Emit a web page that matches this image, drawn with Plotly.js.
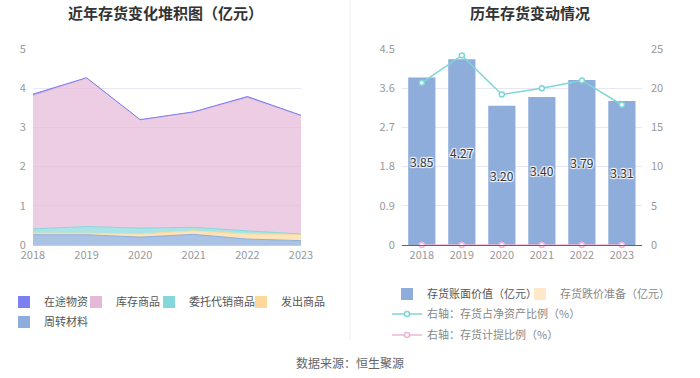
<!DOCTYPE html>
<html><head><meta charset="utf-8">
<script src="https://cdn.plot.ly/plotly-3.0.1.min.js"></script>
<style>body{margin:0;background:#fff}#c{width:700px;height:378px}</style>
</head><body><div id="c"></div>
<script>
const years = ['2018','2019','2020','2021','2022','2023'];
const zaitu = [0.04, 0.01, 0.01, 0.01, 0.03, 0.01];
const kucun = [3.40, 3.79, 2.76, 2.94, 3.40, 3.02];
const weituo = [0.11, 0.17, 0.15, 0.09, 0.08, 0.01];
const fachu = [0.04, 0.04, 0.08, 0.09, 0.13, 0.16];
const zhouzhuan = [0.26, 0.26, 0.20, 0.27, 0.15, 0.11];
const bookValue = [3.85, 4.27, 3.20, 3.40, 3.79, 3.31];
const impairment = [0, 0, 0, 0, 0, 0];
const netAssetRatio = [20.7, 24.2, 19.2, 20.0, 21.0, 17.9];
const provisionRatio = [0, 0, 0, 0, 0, 0];

const font = 'Noto Sans CJK SC, Noto Sans, sans-serif';
const traces = [];
function area(name, y, color, fill, legend){
  traces.push({type:'scatter', mode:'lines', x:years, y:y, name:name, stackgroup:'one',
    line:{color:color, width:1}, fillcolor:fill, xaxis:'x', yaxis:'y', showlegend:false, legendgroup:name, hoverinfo:'skip'});
  // legend swatch only: a zero-height bar so the legend shows a block
  traces.push({type:'bar', x:[years[0]], y:[0], name:name, marker:{color:color, line:{width:0}},
    xaxis:'x', yaxis:'y', legend:legend, legendgroup:name, showlegend:true, hoverinfo:'skip'});
}
area('周转材料', zhouzhuan, '#8eaddb', 'rgba(142,173,219,0.75)', 'legend5');
area('发出商品', fachu, '#fdd89a', 'rgba(253,216,154,0.7)', 'legend4');
area('委托代销商品', weituo, '#86d7da', 'rgba(134,215,218,0.7)', 'legend3');
area('库存商品', kucun, '#e6b8d8', 'rgba(230,184,216,0.7)', 'legend2');
area('在途物资', zaitu, '#7b7ff0', 'rgba(123,127,240,0.8)', 'legend');
traces.push(
  {type:'bar', x:years, y:bookValue, name:'存货账面价值（亿元）', xaxis:'x2', yaxis:'y2',
    marker:{color:'#8eaddb'}, width:0.68, legend:'legend6',
    texttemplate:'%{y:.2f}', textposition:'inside', insidetextanchor:'middle', textangle:0, constraintext:'none',
    textfont:{color:'#333', size:12, family:font,
      shadow:'1px 1px 1px #fff, -1px -1px 1px #fff, 1px -1px 1px #fff, -1px 1px 1px #fff'}},
  {type:'bar', x:years, y:impairment, name:'存货跌价准备（亿元）', xaxis:'x2', yaxis:'y2',
    marker:{color:'#fde8c8'}, legend:'legend7', hoverinfo:'skip'},
  {type:'scatter', mode:'lines+markers', x:years, y:netAssetRatio, name:'右轴：存货占净资产比例（%）',
    xaxis:'x2', yaxis:'y3', line:{color:'#7fd6d8', width:1.5},
    marker:{color:'#fff', size:5, line:{color:'#7fd6d8', width:1.5}}, legend:'legend8', cliponaxis:false},
  {type:'scatter', mode:'lines+markers', x:years, y:provisionRatio, name:'右轴：存货计提比例（%）',
    xaxis:'x2', yaxis:'y3', line:{color:'#efb6d8', width:1.5},
    marker:{color:'#fff', size:5, line:{color:'#efb6d8', width:1.5}}, legend:'legend9', cliponaxis:false}
);
const tickf = {family:font, size:11, color:'#999'};
const legf = {family:font, size:11, color:'#555'};
const legf2 = {family:font, size:11, color:'#888'};
function leg(xpx, ypx, f){
  return {orientation:'h', x:xpx/700, y:1-ypx/378, xanchor:'left', yanchor:'middle', font:f||legf,
    bgcolor:'rgba(0,0,0,0)', itemwidth:30};
}
const layout = {
  width:700, height:378, margin:{l:0,r:0,t:0,b:0}, paper_bgcolor:'#fff', plot_bgcolor:'#fff',
  font:{family:font},
  barmode:'overlay',
  xaxis:{domain:[0.047,0.43], anchor:'y', type:'category', range:[0,5], showgrid:false,
    showline:true, linecolor:'#ccc', linewidth:1, ticks:'', tickfont:tickf},
  yaxis:{domain:[0.352,0.870], anchor:'x', range:[0,5], dtick:1, gridcolor:'#e6e6f5',
    zeroline:false, tickfont:tickf, ticklabelstandoff:6},
  xaxis2:{domain:[0.574,0.917], anchor:'y2', type:'category', range:[-0.5,5.5], showgrid:false,
    showline:true, linecolor:'#666', linewidth:1, ticks:'', tickfont:tickf},
  yaxis2:{domain:[0.352,0.870], anchor:'x2', range:[0,4.5], tickvals:[0,0.9,1.8,2.7,3.6,4.5],
    ticktext:['0','0.9','1.8','2.7','3.6','4.5'], gridcolor:'#e6e6f5', zeroline:false, tickfont:tickf, ticklabelstandoff:6},
  yaxis3:{overlaying:'y2', side:'right', anchor:'x2', range:[0,25], dtick:5, showgrid:false,
    zeroline:false, tickfont:tickf, ticklabelstandoff:8},
  showlegend:true,
  legend: leg(4, 302),
  legend2: leg(76, 302),
  legend3: leg(149, 302),
  legend4: leg(241, 302),
  legend5: leg(4, 322),
  legend6: leg(387, 294),
  legend7: leg(520, 294, legf2),
  legend8: leg(387, 314, legf2),
  legend9: leg(387, 335, legf2),
  shapes:[{type:'line', xref:'paper', yref:'paper', x0:0.5, x1:0.5, y0:0.1, y1:1, line:{color:'#eee', width:1}}],
  annotations:[
    {text:'<b>近年存货变化堆积图（亿元）</b>', xref:'paper', yref:'paper', x:0.236, y:1-12/378, xanchor:'center', yanchor:'middle', showarrow:false, font:{family:font, size:15, color:'#333'}},
    {text:'<b>历年存货变动情况</b>', xref:'paper', yref:'paper', x:0.757, y:1-12/378, xanchor:'center', yanchor:'middle', showarrow:false, font:{family:font, size:15, color:'#333'}},
    {text:'数据来源：恒生聚源', xref:'paper', yref:'paper', x:0.5, y:1-362/378, xanchor:'center', yanchor:'middle', showarrow:false, font:{family:font, size:12, color:'#666'}}
  ]
};
Plotly.newPlot('c', traces, layout, {displayModeBar:false, staticPlot:true});
</script></body></html>
